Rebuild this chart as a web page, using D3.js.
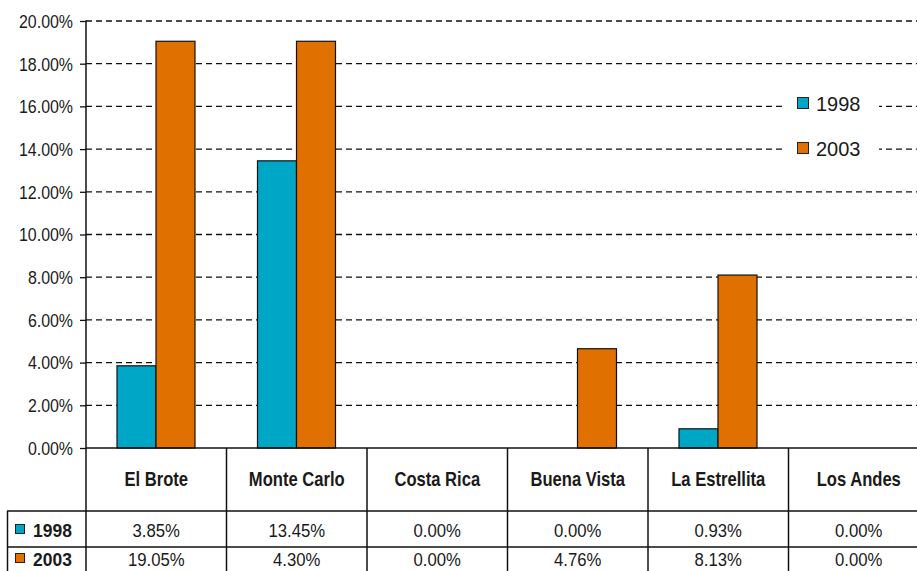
<!DOCTYPE html>
<html>
<head>
<meta charset="utf-8">
<script src="https://cdn.jsdelivr.net/npm/d3@7"></script>
<style>
  body { margin: 0; background: #fff; }
  svg { display: block; }
  .narrow { font-family: 'Liberation Sans Narrow', 'Liberation Sans', Arial, sans-serif; fill: #1a1a1a; }
  .legend text { font-family: 'Liberation Sans', Arial, sans-serif; font-size: 20px; fill: #1a1a1a; }
</style>
</head>
<body>
<div id="chart"></div>
<script>
// Chart data.
var categories = ['El Brote', 'Monte Carlo', 'Costa Rica', 'Buena Vista', 'La Estrellita', 'Los Andes'];
var years = ['1998', '2003'];
var values1998 = [3.85, 13.45, 0, 0, 0.9, 0];
var values2003 = [19.05, 19.05, 0, 4.65, 8.1, 0];
// Data table text, as printed under the chart.
var table1998 = ['3.85%', '13.45%', '0.00%', '0.00%', '0.93%', '0.00%'];
var table2003 = ['19.05%', '4.30%', '0.00%', '4.76%', '8.13%', '0.00%'];
var yTicks = [0, 2, 4, 6, 8, 10, 12, 14, 16, 18, 20];

var colors = { '1998': '#00a6c6', '2003': '#e07000' };
var series = { '1998': values1998, '2003': values2003 };
var tableRows = { '1998': table1998, '2003': table2003 };

var width = 917, height = 571;
var plotLeft = 86, bandW = 140.5;
var yTop = 21, yBase = 448;

var svg = d3.select('#chart').append('svg')
  .attr('width', width)
  .attr('height', height);

var x = d3.scaleBand()
  .domain(categories)
  .range([plotLeft, plotLeft + bandW * categories.length])
  .paddingInner(0).paddingOuter(0);

var x1 = d3.scaleBand()
  .domain(years)
  .range([31, 31 + 78]);

var y = d3.scaleLinear().domain([0, 20]).range([yBase, yTop]);

// Squeeze a text horizontally to mimic the condensed face of the original.
function condensed(sel, px, py, sx) {
  return sel.attr('x', 0).attr('y', 0)
    .attr('transform', 'translate(' + px + ',' + py + ') scale(' + sx + ',1)');
}

// Grid lines.
var grid = svg.append('g').attr('class', 'grid');
grid.selectAll('line')
  .data(yTicks.filter(function(d) { return d > 0; }))
  .enter().append('line')
  .attr('x1', plotLeft).attr('x2', width)
  .attr('y1', function(d) { return y(d); })
  .attr('y2', function(d) { return y(d); })
  .attr('stroke', '#111')
  .attr('stroke-width', 1.3)
  .attr('stroke-dasharray', '6,4');

// Legend sits on a white box over the grid.
var legend = svg.append('g').attr('class', 'legend');
legend.append('rect')
  .attr('x', 786).attr('y', 88).attr('width', 93).attr('height', 80)
  .attr('fill', '#fff');
years.forEach(function(yr, i) {
  var base = 111 + i * 45;
  legend.append('rect')
    .attr('x', 797.5).attr('y', base - 13.5).attr('width', 11).attr('height', 11)
    .attr('fill', colors[yr]).attr('stroke', '#222').attr('stroke-width', 1);
  legend.append('text')
    .attr('x', 816).attr('y', base)
    .attr('font-size', '21px')
    .text(yr);
});

// Bars.
var groups = svg.append('g').attr('class', 'bars')
  .selectAll('g')
  .data(categories)
  .enter().append('g')
  .attr('transform', function(d) { return 'translate(' + x(d) + ',0)'; });

groups.selectAll('rect')
  .data(function(d, i) {
    return years.map(function(yr) { return { year: yr, value: series[yr][i] }; })
      .filter(function(e) { return e.value > 0; });
  })
  .enter().append('rect')
  .attr('x', function(d) { return x1(d.year); })
  .attr('width', x1.bandwidth())
  .attr('y', function(d) { return y(d.value); })
  .attr('height', function(d) { return y(0) - y(d.value); })
  .attr('fill', function(d) { return colors[d.year]; })
  .attr('stroke', '#111')
  .attr('stroke-width', 1.2);

// Y axis.
var yAxis = d3.axisLeft(y)
  .tickValues(yTicks)
  .tickSize(6)
  .tickPadding(4)
  .tickFormat(function(d) { return d.toFixed(2) + '%'; });

var yAxisG = svg.append('g')
  .attr('class', 'y axis')
  .attr('transform', 'translate(' + plotLeft + ',0)')
  .call(yAxis);
yAxisG.select('.domain').remove();
yAxisG.selectAll('line').attr('stroke', '#111').attr('stroke-width', 1.3);
yAxisG.selectAll('text')
  .attr('class', 'narrow')
  .attr('font-size', '17.5px')
  .attr('dy', '0.36em')
  .each(function() { condensed(d3.select(this), -13, 0, 0.91); });
svg.append('line')
  .attr('x1', plotLeft).attr('x2', plotLeft)
  .attr('y1', yTop - 0.5).attr('y2', yBase)
  .attr('stroke', '#111').attr('stroke-width', 1.5);

// Data table.
var table = svg.append('g').attr('class', 'table');
var rowTop = [511, 547];
var tableRight = width;

table.append('line')
  .attr('x1', plotLeft).attr('x2', tableRight)
  .attr('y1', yBase).attr('y2', yBase)
  .attr('stroke', '#111').attr('stroke-width', 1.5);

rowTop.forEach(function(ry) {
  table.append('line')
    .attr('x1', 7).attr('x2', tableRight)
    .attr('y1', ry).attr('y2', ry)
    .attr('stroke', '#111').attr('stroke-width', 1.5);
});
table.append('line')
  .attr('x1', 7.5).attr('x2', 7.5)
  .attr('y1', rowTop[0]).attr('y2', height)
  .attr('stroke', '#111').attr('stroke-width', 1.5);

categories.forEach(function(c) {
  table.append('line')
    .attr('x1', x(c)).attr('x2', x(c))
    .attr('y1', yBase).attr('y2', height)
    .attr('stroke', '#111').attr('stroke-width', 1.5);
});

table.selectAll('text.cat')
  .data(categories)
  .enter().append('text')
  .attr('class', 'cat narrow')
  .attr('text-anchor', 'middle')
  .attr('font-size', '20px')
  .attr('font-weight', 'bold')
  .text(function(d) { return d; })
  .each(function(d) { condensed(d3.select(this), x(d) + bandW / 2, 486, 0.83); });

var rowBase = [537, 566];
years.forEach(function(yr, r) {
  var cy = rowBase[r];
  table.append('rect')
    .attr('x', 15.5).attr('y', cy - 12.5).attr('width', 9).attr('height', 9)
    .attr('fill', colors[yr]).attr('stroke', '#222').attr('stroke-width', 1);
  table.append('text')
    .attr('class', 'narrow')
    .attr('font-size', '19px')
    .attr('font-weight', 'bold')
    .text(yr)
    .call(condensed, 33, cy, 0.92);
  table.selectAll('text.v' + yr)
    .data(tableRows[yr])
    .enter().append('text')
    .attr('class', 'narrow v' + yr)
    .attr('text-anchor', 'middle')
    .attr('font-size', '19px')
    .text(function(d) { return d; })
    .each(function(d, i) { condensed(d3.select(this), x(categories[i]) + bandW / 2, cy, 0.88); });
});
</script>
</body>
</html>
